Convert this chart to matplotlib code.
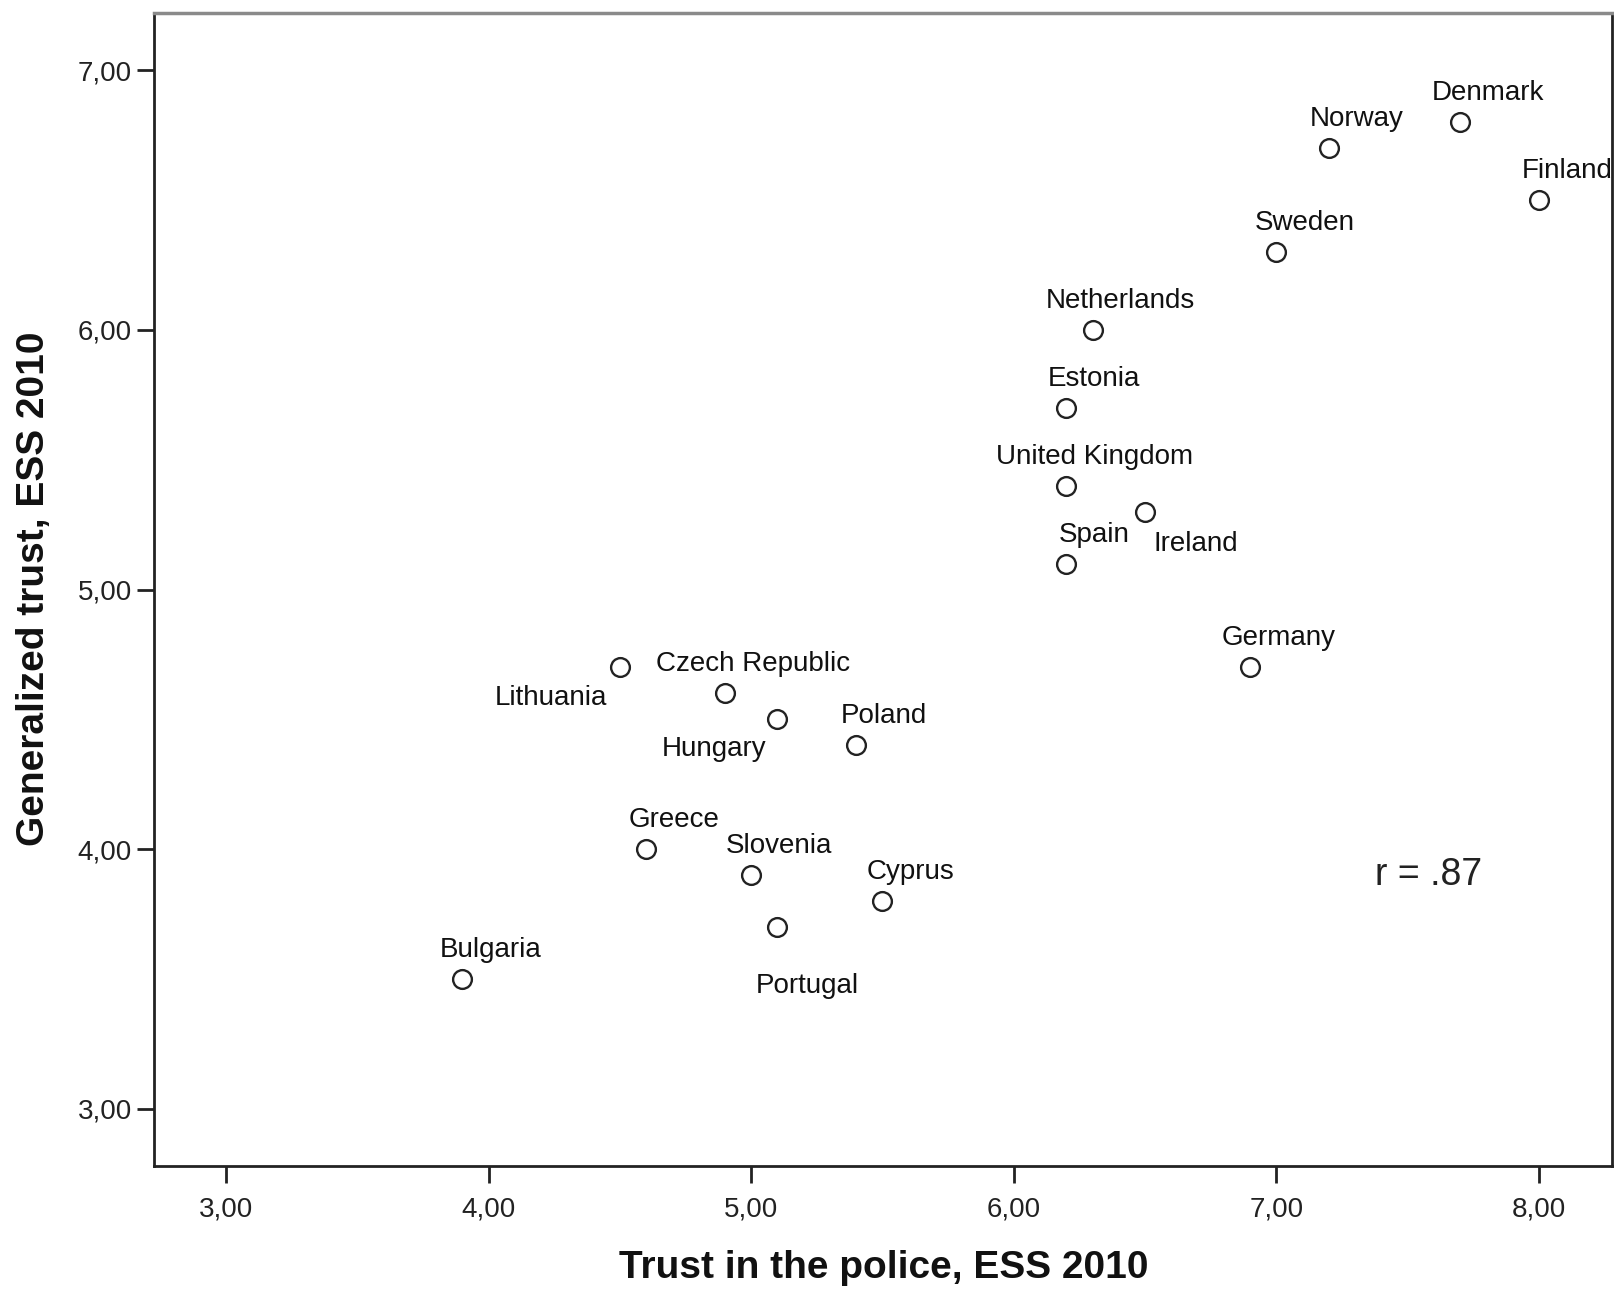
import matplotlib
matplotlib.use("Agg")
import matplotlib.pyplot as plt
from matplotlib.ticker import FuncFormatter

plt.rcParams["font.family"] = ["Liberation Sans", "DejaVu Sans"]

# ------------------------------------------------------------
# Data: ESS 2010, country means
# ------------------------------------------------------------
countries = [
    "Denmark", "Norway", "Finland", "Sweden", "Netherlands", "Estonia",
    "United Kingdom", "Ireland", "Spain", "Germany", "Lithuania",
    "Czech Republic", "Hungary", "Poland", "Greece", "Slovenia",
    "Cyprus", "Portugal", "Bulgaria",
]
police_trust = [7.7, 7.2, 8.0, 7.0, 6.3, 6.2, 6.2, 6.5, 6.2, 6.9, 4.5,
                4.9, 5.1, 5.4, 4.6, 5.0, 5.5, 5.1, 3.9]
general_trust = [6.8, 6.7, 6.5, 6.3, 6.0, 5.7, 5.4, 5.3, 5.1, 4.7, 4.7,
                 4.6, 4.5, 4.4, 4.0, 3.9, 3.8, 3.7, 3.5]
x_ticks = [3, 4, 5, 6, 7, 8]
y_ticks = [3, 4, 5, 6, 7]
r_text = "r = .87"

# label placement (pixels from point): default is centered above
label_pos = {
    "Lithuania": (-13, -38, "right"),
    "Hungary": (-11, -37, "right"),
    "Ireland": (8, -39, "left"),
    "Portugal": (30, -66, "center"),
}

fig = plt.figure(figsize=(16.14, 12.89), dpi=100)
ax = fig.add_axes([154 / 1614, 1 - 1166 / 1289, (1612 - 154) / 1614, (1166 - 13) / 1289])

ax.plot(police_trust, general_trust, linestyle="none", marker="o",
        markersize=13.5, markerfacecolor="white", markeredgecolor="#222222",
        markeredgewidth=1.7, clip_on=False)

for name, x, y in zip(countries, police_trust, general_trust):
    dx, dy, ha = label_pos.get(name, (28, 22, "center"))
    ax.annotate(name, (x, y), xytext=(dx, dy), textcoords="offset pixels",
                ha=ha, va="baseline", fontsize=20, color="#111111",
                annotation_clip=False)

ax.text(7.58, 3.9, r_text, ha="center", va="center", fontsize=27,
        color="#222222")

ax.set_xlim(2.726, 8.278)
ax.set_ylim(2.78, 7.22)
ax.set_xticks(x_ticks)
ax.set_yticks(y_ticks)
comma_fmt = FuncFormatter(lambda v, _: f"{v:.2f}".replace(".", ","))
ax.xaxis.set_major_formatter(comma_fmt)
ax.yaxis.set_major_formatter(comma_fmt)
ax.tick_params(axis="both", labelsize=20, colors="#222222", width=2,
               length=12)
ax.tick_params(axis="x", pad=10)
ax.tick_params(axis="y", pad=4)

for side in ["left", "bottom", "right"]:
    ax.spines[side].set_color("#222222")
    ax.spines[side].set_linewidth(2)
ax.spines["top"].set_color("#8a8a8a")
ax.spines["top"].set_linewidth(2.5)

fig.text(884 / 1614, 1 - 1268 / 1289, "Trust in the police, ESS 2010",
         ha="center", va="center", fontsize=28, fontweight="bold",
         color="#111111")
fig.text(34 / 1614, 1 - 589 / 1289, "Generalized trust, ESS 2010",
         ha="center", va="center", rotation=90, fontsize=28,
         fontweight="bold", color="#111111")

fig.savefig("out.png", dpi=100, facecolor="white")
